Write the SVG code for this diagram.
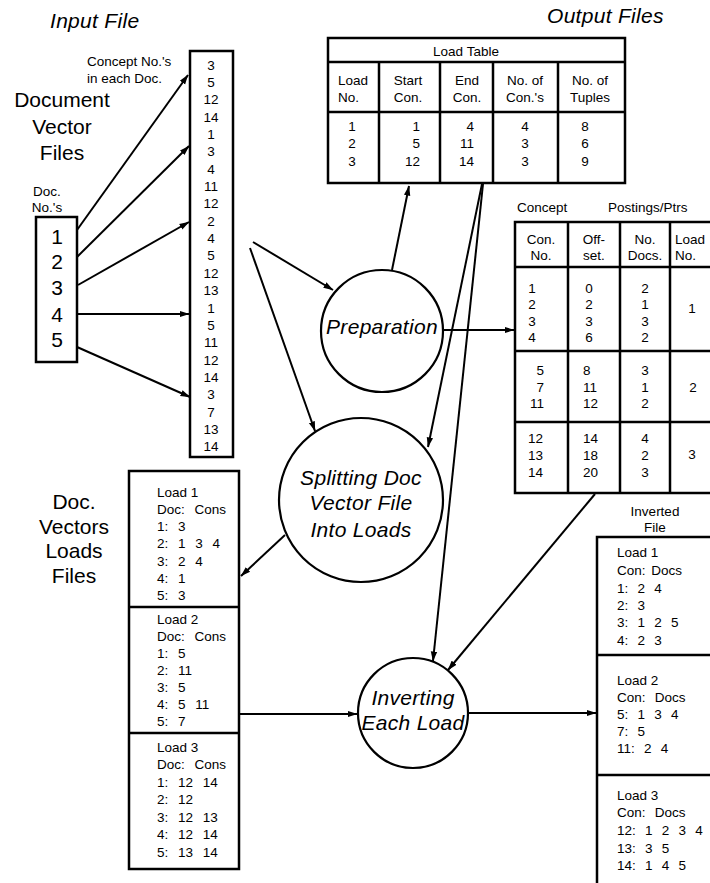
<svg xmlns="http://www.w3.org/2000/svg" width="710" height="883" viewBox="0 0 710 883">
<defs>
<marker id="ah" markerWidth="10" markerHeight="8" refX="9.5" refY="4" orient="auto" markerUnits="userSpaceOnUse"><path d="M0,0.8 L10,4 L0,7.2 z" fill="#000"/></marker>
</defs>
<style>
text{font-family:"Liberation Sans","Open Sans",sans-serif;fill:#000}
.t{font-size:13.5px}
.it{font-style:italic;font-size:21px;letter-spacing:0.3px}
.big{font-size:21px}
.c{text-anchor:middle}
.e{text-anchor:end}
.box{fill:#fff;stroke:#000;stroke-width:2.5}
.ln{stroke:#000;stroke-width:2.5;fill:none}
.cn{stroke:#000;stroke-width:2;fill:none;marker-end:url(#ah)}
.circ{fill:#fff;stroke:#000;stroke-width:2.2}
.wl{word-spacing:6px}
.wr{word-spacing:5.5px}
.w0{word-spacing:0}
</style>
<rect width="710" height="883" fill="#fff"/>

<g id="input-title"><text class="it" x="50" y="28">Input File</text></g>
<g id="output-title"><text class="it" x="547" y="23">Output Files</text></g>

<g id="doc-vector-label">
<text class="big c" x="62" y="107">Document</text>
<text class="big c" x="62" y="134">Vector</text>
<text class="big c" x="62" y="160">Files</text>
<text class="t c" x="47" y="196">Doc.</text>
<text class="t c" x="47" y="212">No.'s</text>
</g>

<g id="doc-box">
<rect class="box" x="36" y="217" width="41" height="145"/>
<text class="big c" x="57" y="244">1</text>
<text class="big c" x="57" y="269">2</text>
<text class="big c" x="57" y="295">3</text>
<text class="big c" x="57" y="322">4</text>
<text class="big c" x="57" y="347">5</text>
</g>

<g id="concept-column">
<text class="t" x="87" y="66">Concept No.'s</text>
<text class="t" x="87" y="83">in each Doc.</text>
<rect class="box" x="190" y="51" width="43" height="406"/>
<text class="t c" x="211" y="69.5">3<tspan x="211" dy="17.36">5</tspan><tspan x="211" dy="17.36">12</tspan><tspan x="211" dy="17.36">14</tspan><tspan x="211" dy="17.36">1</tspan><tspan x="211" dy="17.36">3</tspan><tspan x="211" dy="17.36">4</tspan><tspan x="211" dy="17.36">11</tspan><tspan x="211" dy="17.36">12</tspan><tspan x="211" dy="17.36">2</tspan><tspan x="211" dy="17.36">4</tspan><tspan x="211" dy="17.36">5</tspan><tspan x="211" dy="17.36">12</tspan><tspan x="211" dy="17.36">13</tspan><tspan x="211" dy="17.36">1</tspan><tspan x="211" dy="17.36">5</tspan><tspan x="211" dy="17.36">11</tspan><tspan x="211" dy="17.36">12</tspan><tspan x="211" dy="17.36">14</tspan><tspan x="211" dy="17.36">3</tspan><tspan x="211" dy="17.36">7</tspan><tspan x="211" dy="17.36">13</tspan><tspan x="211" dy="17.36">14</tspan></text>
</g>

<g id="load-table">
<rect class="box" x="328" y="38" width="297" height="145"/>
<path class="ln" d="M328,62 H625 M328,112 H625 M379,62 V183 M440,62 V183 M493,62 V183 M558,62 V183"/>
<text class="t c" x="466" y="56">Load Table</text>
<text class="t" x="338" y="85">Load</text><text class="t" x="338" y="102">No.</text>
<text class="t c" x="408" y="85">Start</text><text class="t c" x="408" y="102">Con.</text>
<text class="t c" x="467" y="85">End</text><text class="t c" x="467" y="102">Con.</text>
<text class="t c" x="525" y="85">No. of</text><text class="t c" x="525" y="102">Con.'s</text>
<text class="t c" x="590" y="85">No. of</text><text class="t c" x="590" y="102">Tuples</text>
<text class="t c" x="352" y="131">1</text><text class="t c" x="352" y="148">2</text><text class="t c" x="352" y="166">3</text>
<text class="t e" x="420" y="131">1</text><text class="t e" x="420" y="148">5</text><text class="t e" x="420" y="166">12</text>
<text class="t e" x="474" y="131">4</text><text class="t e" x="474" y="148">11</text><text class="t e" x="474" y="166">14</text>
<text class="t c" x="525" y="131">4</text><text class="t c" x="525" y="148">3</text><text class="t c" x="525" y="166">3</text>
<text class="t c" x="585" y="131">8</text><text class="t c" x="585" y="148">6</text><text class="t c" x="585" y="166">9</text>
</g>

<g id="postings-table">
<text class="t" x="517" y="212">Concept</text>
<text class="t" x="608" y="212">Postings/Ptrs</text>
<rect class="box" x="515" y="222" width="205" height="271"/>
<path class="ln" d="M515,267 H720 M515,351 H720 M515,422 H720 M568,222 V493 M620,222 V493 M670,222 V493"/>
<text class="t c" x="541" y="244">Con.</text><text class="t c" x="541" y="260">No.</text>
<text class="t c" x="594" y="244">Off-</text><text class="t c" x="594" y="260">set.</text>
<text class="t c" x="645" y="244">No.</text><text class="t c" x="645" y="260">Docs.</text>
<text class="t" x="675" y="244">Load</text><text class="t" x="675" y="260">No.</text>
<text class="t c" x="532" y="293">1</text><text class="t c" x="532" y="309">2</text><text class="t c" x="532" y="326">3</text><text class="t c" x="532" y="342">4</text>
<text class="t c" x="589" y="293">0</text><text class="t c" x="589" y="309">2</text><text class="t c" x="589" y="326">3</text><text class="t c" x="589" y="342">6</text>
<text class="t c" x="645" y="293">2</text><text class="t c" x="645" y="309">1</text><text class="t c" x="645" y="326">3</text><text class="t c" x="645" y="342">2</text>
<text class="t c" x="692" y="313">1</text>
<text class="t e" x="544" y="375">5</text><text class="t e" x="544" y="392">7</text><text class="t e" x="544" y="408">11</text>
<text class="t" x="583" y="375">8</text><text class="t" x="583" y="392">11</text><text class="t" x="583" y="408">12</text>
<text class="t c" x="645" y="375">3</text><text class="t c" x="645" y="392">1</text><text class="t c" x="645" y="408">2</text>
<text class="t c" x="693" y="392">2</text>
<text class="t" x="528" y="443">12</text><text class="t" x="528" y="460">13</text><text class="t" x="528" y="477">14</text>
<text class="t" x="583" y="443">14</text><text class="t" x="583" y="460">18</text><text class="t" x="583" y="477">20</text>
<text class="t c" x="645" y="443">4</text><text class="t c" x="645" y="460">2</text><text class="t c" x="645" y="477">3</text>
<text class="t c" x="692" y="459">3</text>
</g>

<g id="preparation">
<circle class="circ" cx="382" cy="331" r="61"/>
<text class="it c" x="382" y="334">Preparation</text>
</g>

<g id="splitting">
<circle class="circ" cx="361" cy="500" r="82"/>
<text class="it c" x="361" y="485">Splitting Doc</text>
<text class="it c" x="361" y="510">Vector File</text>
<text class="it c" x="361" y="537">Into Loads</text>
</g>

<g id="inverting">
<circle class="circ" cx="413" cy="713" r="55"/>
<text class="it c" x="413" y="705">Inverting</text>
<text class="it c" x="413" y="730">Each Load</text>
</g>

<g id="doc-vectors-loads-files">
<text class="big c" x="74" y="509">Doc.</text>
<text class="big c" x="74" y="534">Vectors</text>
<text class="big c" x="74" y="558">Loads</text>
<text class="big c" x="74" y="583">Files</text>
<rect class="box" x="129" y="471" width="110" height="398"/>
<path class="ln" d="M129,607 H239 M129,733 H239"/>
<g class="t wl">
<text class="w0" x="157" y="497">Load 1</text><text x="157" y="514">Doc: Cons</text><text x="157" y="531">1: 3</text><text x="157" y="548">2: 1 3 4</text><text x="157" y="566">3: 2 4</text><text x="157" y="583">4: 1</text><text x="157" y="600">5: 3</text>
<text class="w0" x="157" y="624">Load 2</text><text x="157" y="641">Doc: Cons</text><text x="157" y="658">1: 5</text><text x="157" y="675">2: 11</text><text x="157" y="692">3: 5</text><text x="157" y="709">4: 5 11</text><text x="157" y="726">5: 7</text>
<text class="w0" x="157" y="752">Load 3</text><text x="157" y="769">Doc: Cons</text><text x="157" y="787">1: 12 14</text><text x="157" y="804">2: 12</text><text x="157" y="822">3: 12 13</text><text x="157" y="839">4: 12 14</text><text x="157" y="857">5: 13 14</text>
</g>
</g>

<g id="inverted-file">
<text class="t c" x="655" y="516">Inverted</text>
<text class="t c" x="655" y="532">File</text>
<rect class="box" x="597" y="537" width="125" height="360"/>
<path class="ln" d="M597,655 H722 M597,775 H722"/>
<g class="t wr">
<text class="w0" x="617" y="557">Load 1</text><text x="617" y="575" style="word-spacing:2px">Con: Docs</text><text x="617" y="593">1: 2 4</text><text x="617" y="610">2: 3</text><text x="617" y="627">3: 1 2 5</text><text x="617" y="645">4: 2 3</text>
<text class="w0" x="617" y="685">Load 2</text><text x="617" y="702">Con: Docs</text><text x="617" y="719">5: 1 3 4</text><text x="617" y="736">7: 5</text><text x="617" y="753">11: 2 4</text>
<text class="w0" x="617" y="800">Load 3</text><text x="617" y="817">Con: Docs</text><text x="617" y="835">12: 1 2 3 4</text><text x="617" y="853">13: 3 5</text><text x="617" y="870">14: 1 4 5</text>
</g>
</g>

<g id="connectors">
<line class="cn" x1="77" y1="230" x2="188" y2="75"/>
<line class="cn" x1="77" y1="257" x2="189" y2="146"/>
<line class="cn" x1="78" y1="285" x2="189" y2="222"/>
<line class="cn" x1="77" y1="314" x2="189" y2="314"/>
<line class="cn" x1="77" y1="347" x2="190" y2="397"/>
<line class="cn" x1="253" y1="242" x2="333" y2="290"/>
<line class="cn" x1="250" y1="248" x2="315" y2="431"/>
<line class="cn" x1="392" y1="270" x2="409" y2="186"/>
<line class="cn" x1="482" y1="184" x2="428" y2="447"/>
<line class="cn" x1="483" y1="184" x2="433" y2="661"/>
<line class="cn" x1="443" y1="330" x2="514" y2="330"/>
<line class="cn" x1="595" y1="494" x2="448" y2="670"/>
<line class="cn" x1="285" y1="535" x2="241" y2="576"/>
<line class="cn" x1="239" y1="714" x2="357" y2="714"/>
<line class="cn" x1="468" y1="713" x2="596" y2="713"/>
</g>
</svg>
